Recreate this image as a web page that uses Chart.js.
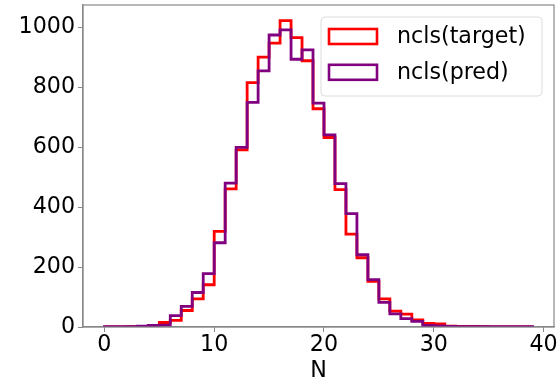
<!DOCTYPE html>
<html>
<head>
<meta charset="utf-8">
<script src="https://cdn.jsdelivr.net/npm/chart.js@4/dist/chart.umd.min.js"></script>
<style>
  html, body { margin: 0; padding: 0; background: #fff; }
  #wrap { width: 558px; height: 380px; position: relative; }
</style>
</head>
<body>
<div id="wrap"><canvas id="histChart"></canvas></div>
<script>
// bin edges 0..39, one count per bin
const binEdges = Array.from({ length: 40 }, (_, i) => i);
const targetCounts = [0, 0, 1, 2, 5, 15, 22, 55, 94, 141, 319, 461, 591, 815, 900, 947, 1022, 965, 888, 728,
    632, 458, 310, 231, 152, 94, 53, 43, 24, 12, 10, 3, 2, 2, 1, 0, 0, 0, 0];
const predCounts = [1, 1, 1, 3, 5, 6, 38, 69, 115, 178, 281, 480, 599, 749, 854, 974, 991, 893, 924, 747,
    641, 478, 378, 241, 158, 82, 44, 28, 19, 5, 4, 2, 1, 1, 1, 1, 1, 1, 1];
const xTicks = [0, 10, 20, 30, 40];
const yTicks = [0, 200, 400, 600, 800, 1000];
const seriesLabels = ["ncls(target)", "ncls(pred)"];

const FONT = "'DejaVu Sans', sans-serif";
const FS = 22.2;
const AXIS_GREY = "#888888";

// step outline like matplotlib histtype="step"
function stepPoints(counts) {
    const pts = [{ x: binEdges[0], y: 0 }];
    counts.forEach((c, i) => pts.push({ x: binEdges[i], y: c }));
    const last = counts[counts.length - 1];
    pts.push({ x: binEdges[counts.length], y: last });
    pts.push({ x: binEdges[counts.length], y: 0 });
    return pts;
}

// box round the plot area
const frame = {
    id: "frame",
    afterDatasetsDraw(chart) {
        const { ctx, chartArea: a } = chart;
        ctx.save();
        ctx.strokeStyle = AXIS_GREY;
        ctx.lineWidth = 1.2;
        ctx.strokeRect(a.left, a.top, a.right - a.left, a.bottom - a.top);
        ctx.restore();
    }
};

// legend drawn inside the plot, top right
const boxLegend = {
    id: "boxLegend",
    afterDraw(chart) {
        const ctx = chart.ctx;
        const x0 = 321, y0 = 17, w = 221, h = 79;
        ctx.save();
        ctx.beginPath();
        ctx.roundRect(x0, y0, w, h, 4);
        ctx.fillStyle = "rgba(255,255,255,0.8)";
        ctx.fill();
        ctx.strokeStyle = "#dcdcdc";
        ctx.lineWidth = 1;
        ctx.stroke();
        ctx.font = FS + "px " + FONT;
        ctx.textBaseline = "middle";
        ctx.fillStyle = "#000";
        chart.data.datasets.forEach(ds => {
            const idx = seriesLabels.indexOf(ds.label);
            const cy = 36.5 + idx * 35.8;
            ctx.strokeStyle = ds.borderColor;
            ctx.lineWidth = 2.6;
            ctx.strokeRect(329, cy - 7.5, 48, 15);
            ctx.fillText(ds.label, 397, cy + 1);
        });
        ctx.restore();
    }
};

const ctx = document.getElementById("histChart").getContext("2d");
new Chart(ctx, {
    type: "line",
    data: {
        datasets: [
            {
                label: seriesLabels[0],
                data: stepPoints(targetCounts),
                borderColor: "#ff0000",
                borderWidth: 2.8,
                stepped: "before",
                pointRadius: 0,
                fill: false,
                order: 1
            },
            {
                label: seriesLabels[1],
                data: stepPoints(predCounts),
                borderColor: "#800080",
                borderWidth: 2.8,
                stepped: "before",
                pointRadius: 0,
                fill: false,
                order: 0
            }
        ]
    },
    options: {
        responsive: true,
        maintainAspectRatio: false,
        animation: false,
        layout: { padding: { top: 5, right: 4, left: 0, bottom: 0 } },
        plugins: {
            legend: { display: false },
            tooltip: { enabled: false },
            title: { display: false }
        },
        scales: {
            x: {
                type: "linear",
                min: -1.95,
                max: 40.95,
                afterBuildTicks: s => { s.ticks = xTicks.map(v => ({ value: v })); },
                afterFit: s => { s.height = 53; s.paddingLeft = 0; s.paddingRight = 0; },
                ticks: {
                    color: "#000",
                    font: { family: FONT, size: FS },
                    padding: 0,
                    maxRotation: 0,
                    autoSkip: false,
                    callback: v => String(v)
                },
                grid: { drawOnChartArea: false, drawTicks: true, tickLength: 5, color: AXIS_GREY },
                border: { display: true, color: AXIS_GREY, width: 1.2 },
                title: {
                    display: true,
                    text: "N",
                    color: "#000",
                    font: { family: FONT, size: FS, lineHeight: 0.8 },
                    padding: { top: 0, bottom: 0 }
                }
            },
            y: {
                min: 0,
                max: 1074,
                afterBuildTicks: s => { s.ticks = yTicks.map(v => ({ value: v })); },
                afterFit: s => { s.width = 83; s.paddingTop = 0; s.paddingBottom = 0; },
                ticks: {
                    color: "#000",
                    font: { family: FONT, size: FS },
                    padding: 3,
                    autoSkip: false,
                    callback: v => String(v)
                },
                grid: { drawOnChartArea: false, drawTicks: true, tickLength: 5, color: AXIS_GREY },
                border: { display: true, color: AXIS_GREY, width: 1.2 }
            }
        }
    },
    plugins: [frame, boxLegend]
});
</script>
</body>
</html>
